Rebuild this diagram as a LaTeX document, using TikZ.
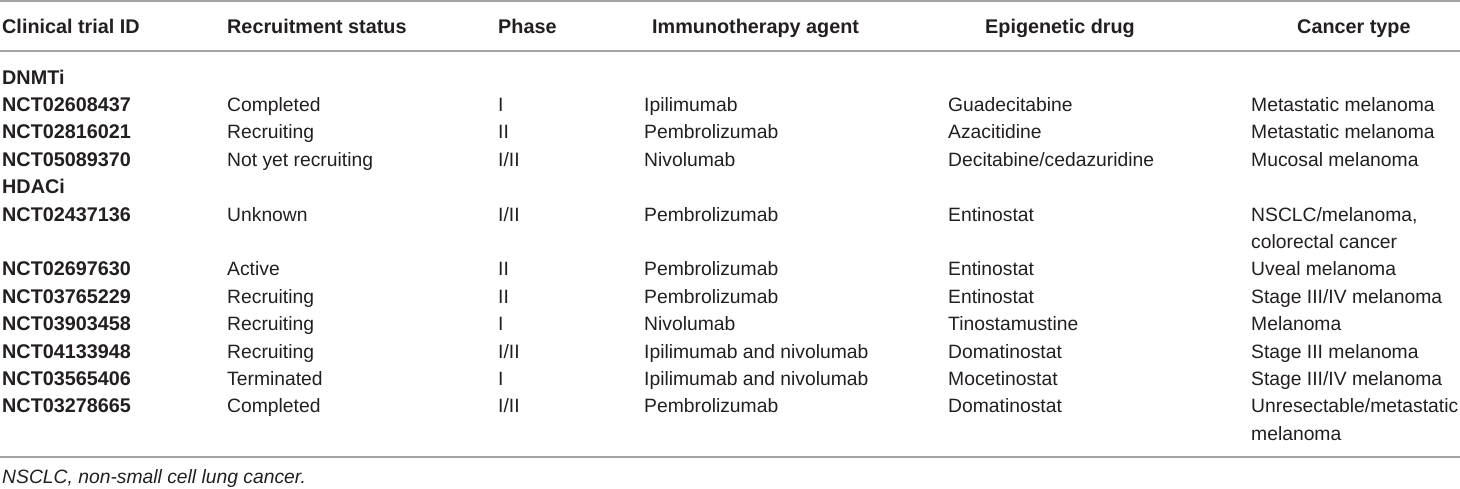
\documentclass[tikz,border=0pt]{standalone}
\usepackage{fontspec}
\setmainfont{Liberation Sans}
\usetikzlibrary{positioning}
\definecolor{ink}{HTML}{231F20}
\definecolor{rulegray}{HTML}{A2A2A2}
\tikzset{cell/.style={anchor=base west, inner sep=0pt, text=ink, font=\fontsize{19.3}{24}\selectfont},
  head/.style={cell, font=\fontsize{19.8}{24}\selectfont\bfseries},
  note/.style={cell, font=\fontsize{19.3}{24}\selectfont\itshape},
  tabrule/.style={draw=rulegray, line width=2pt}}

\begin{document}
\begin{tikzpicture}[x=1pt, y=-1pt]
\useasboundingbox (0,0) rectangle (1460,488);

% rules
\draw[tabrule](0,1)--(1460,1);
\draw[tabrule](0,51)--(1460,51);
\draw[tabrule](0,456.7)--(1460,456.7);

% header
\node[head] (hid) at (2,33.3) {Clinical trial ID};
\node[head] (hst) at (227,33.3) {Recruitment status};
\node[head] (hph) at (498,33.3) {Phase};
\node[head] (hag) at (652,33.3) {Immunotherapy agent};
\node[head] (hdr) at (985,33.3) {Epigenetic drug};
\node[head] (hca) at (1297,33.3) {Cancer type};

% DNMTi
\node[head] (gdn) at (2,84) {DNMTi};
\node[head] (id1) at (2,111.4) {NCT02608437};
\node[cell] (st1) at (227,111.4) {Completed};
\node[cell] (ph1) at (498,111.4) {I};
\node[cell] (ag1) at (644,111.4) {Ipilimumab};
\node[cell] (dr1) at (948,111.4) {Guadecitabine};
\node[cell] (ca1) at (1251,111.4) {Metastatic melanoma};

\node[head] (id2) at (2,138.8) {NCT02816021};
\node[cell] (st2) at (227,138.8) {Recruiting};
\node[cell] (ph2) at (498,138.8) {II};
\node[cell] (ag2) at (644,138.8) {Pembrolizumab};
\node[cell] (dr2) at (948,138.8) {Azacitidine};
\node[cell] (ca2) at (1251,138.8) {Metastatic melanoma};

\node[head] (id3) at (2,166.2) {NCT05089370};
\node[cell] (st3) at (227,166.2) {Not yet recruiting};
\node[cell] (ph3) at (498,166.2) {I/II};
\node[cell] (ag3) at (644,166.2) {Nivolumab};
\node[cell] (dr3) at (948,166.2) {Decitabine/cedazuridine};
\node[cell] (ca3) at (1251,166.2) {Mucosal melanoma};

% HDACi
\node[head] (ghd) at (2,193.6) {HDACi};
\node[head] (id4) at (2,221) {NCT02437136};
\node[cell] (st4) at (227,221) {Unknown};
\node[cell] (ph4) at (498,221) {I/II};
\node[cell] (ag4) at (644,221) {Pembrolizumab};
\node[cell] (dr4) at (948,221) {Entinostat};
\node[cell] (ca4) at (1251,221) {NSCLC/melanoma,};
\node[cell] (ca4b) at (1251,248.4) {colorectal cancer};

\node[head] (id5) at (2,275.8) {NCT02697630};
\node[cell] (st5) at (227,275.8) {Active};
\node[cell] (ph5) at (498,275.8) {II};
\node[cell] (ag5) at (644,275.8) {Pembrolizumab};
\node[cell] (dr5) at (948,275.8) {Entinostat};
\node[cell] (ca5) at (1251,275.8) {Uveal melanoma};

\node[head] (id6) at (2,303.2) {NCT03765229};
\node[cell] (st6) at (227,303.2) {Recruiting};
\node[cell] (ph6) at (498,303.2) {II};
\node[cell] (ag6) at (644,303.2) {Pembrolizumab};
\node[cell] (dr6) at (948,303.2) {Entinostat};
\node[cell] (ca6) at (1251,303.2) {Stage III/IV melanoma};

\node[head] (id7) at (2,330.6) {NCT03903458};
\node[cell] (st7) at (227,330.6) {Recruiting};
\node[cell] (ph7) at (498,330.6) {I};
\node[cell] (ag7) at (644,330.6) {Nivolumab};
\node[cell] (dr7) at (948,330.6) {Tinostamustine};
\node[cell] (ca7) at (1251,330.6) {Melanoma};

\node[head] (id8) at (2,358) {NCT04133948};
\node[cell] (st8) at (227,358) {Recruiting};
\node[cell] (ph8) at (498,358) {I/II};
\node[cell] (ag8) at (644,358) {Ipilimumab and nivolumab};
\node[cell] (dr8) at (948,358) {Domatinostat};
\node[cell] (ca8) at (1251,358) {Stage III melanoma};

\node[head] (id9) at (2,385.4) {NCT03565406};
\node[cell] (st9) at (227,385.4) {Terminated};
\node[cell] (ph9) at (498,385.4) {I};
\node[cell] (ag9) at (644,385.4) {Ipilimumab and nivolumab};
\node[cell] (dr9) at (948,385.4) {Mocetinostat};
\node[cell] (ca9) at (1251,385.4) {Stage III/IV melanoma};

\node[head] (id10) at (2,412.8) {NCT03278665};
\node[cell] (st10) at (227,412.8) {Completed};
\node[cell] (ph10) at (498,412.8) {I/II};
\node[cell] (ag10) at (644,412.8) {Pembrolizumab};
\node[cell] (dr10) at (948,412.8) {Domatinostat};
\node[cell] (ca10) at (1251,412.8) {Unresectable/metastatic};
\node[cell] (ca10b) at (1251,440.2) {melanoma};

% footnote
\node[note] (fn) at (2,483) {NSCLC, non-small cell lung cancer.};
\end{tikzpicture}
\end{document}
